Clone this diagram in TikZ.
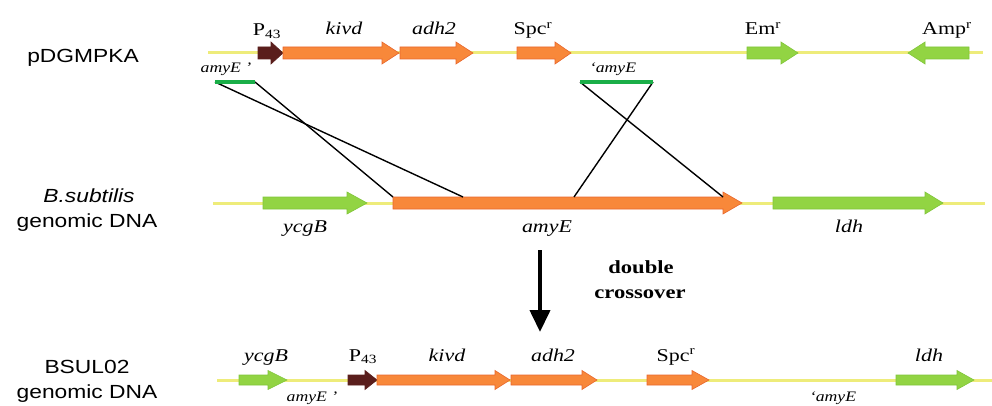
\documentclass[tikz,border=0pt]{standalone}
\usepackage{fontspec}
\setmainfont{Liberation Serif}[FakeStretch=1.22]
\newfontfamily\arialfont{Liberation Sans}[FakeStretch=1.2]
\usetikzlibrary{arrows.meta}
\definecolor{orfill}{HTML}{F8883A}
\definecolor{ordraw}{HTML}{E8662C}
\definecolor{grfill}{HTML}{92D443}
\definecolor{grdraw}{HTML}{80C53A}
\definecolor{brfill}{HTML}{5A1E1C}
\definecolor{dnayel}{HTML}{EEEC7A}
\definecolor{hgreen}{HTML}{1AAE48}
% #1 x1, #2 x2 (tip), #3 y, #4 style, #5 head length (signed), #6 body half, #7 head half
\newcommand\genearrow[7]{%
  \draw[#4] ({#1},{#3-#6}) -- ({#2-(#5)},{#3-#6}) -- ({#2-(#5)},{#3-#7}) -- ({#2},{#3})
    -- ({#2-(#5)},{#3+#7}) -- ({#2-(#5)},{#3+#6}) -- ({#1},{#3+#6}) -- cycle;}
\begin{document}
\begin{tikzpicture}[x=1pt,y=-1pt,
  orgene/.style={fill=orfill,draw=ordraw,line width=0.6pt},
  grgene/.style={fill=grfill,draw=grdraw,line width=0.6pt},
  brgene/.style={fill=brfill,draw=brfill,line width=0.6pt},
  dna/.style={draw=dnayel,line width=3pt},
  homol/.style={draw=hgreen,line width=3.2pt},
  cross/.style={draw=black,line width=1.4pt},
  title/.style={anchor=base,font=\arialfont\fontsize{19}{22}\selectfont,inner sep=0pt},
  glab/.style={anchor=base,font=\fontsize{18}{21}\selectfont\itshape,inner sep=0pt},
  plab/.style={anchor=base,font=\fontsize{18}{21}\selectfont,inner sep=0pt},
  slab/.style={anchor=base,font=\fontsize{14.5}{17}\selectfont\itshape,inner sep=0pt},
  blab/.style={anchor=base,font=\fontsize{18.5}{21}\selectfont\bfseries,inner sep=0pt}]
\useasboundingbox (0,0) rectangle (992,406);

% titles
\node[title] (t1) at (83,63) {pDGMPKA};
\node[title] (t2) at (89,202) {\itshape B.subtilis};
\node[title] (t3) at (87,227) {genomic DNA};
\node[title] (t4) at (87,373) {BSUL02};
\node[title] (t5) at (87,398) {genomic DNA};

% DNA backbones
\draw[dna] (208,53) -- (983,53);
\draw[dna] (213,203) -- (985,203);
\draw[dna] (217,380) -- (992,380);

% top row genes
\genearrow{258}{283}{53}{brgene}{12}{6}{11}
\genearrow{283}{399}{53}{orgene}{17}{6}{11}
\genearrow{400}{473}{53}{orgene}{17}{6}{11}
\genearrow{517}{571}{53}{orgene}{16}{6}{11}
\genearrow{747}{798}{53}{grgene}{17}{6}{11}
\genearrow{969}{908}{53}{grgene}{-17}{6}{11}

% middle row genes
\genearrow{263}{367}{203}{grgene}{20}{6}{11}
\genearrow{393}{742}{203}{orgene}{19}{6}{11}
\genearrow{773}{943}{203}{grgene}{18}{6}{11}

% bottom row genes
\genearrow{239}{287}{380}{grgene}{19}{5}{9.5}
\genearrow{348}{377}{380}{brgene}{12}{5}{9.5}
\genearrow{377}{510}{380}{orgene}{15}{5}{9.5}
\genearrow{511}{597}{380}{orgene}{15}{5}{9.5}
\genearrow{647}{709}{380}{orgene}{17}{5}{9.5}
\genearrow{896}{974}{380}{grgene}{17}{5}{9.5}

% top labels
\node[plab] (p43a) at (267,36) {P\textsubscript{43}};
\node[glab] (kivda) at (344,35) {kivd};
\node[glab] (adha) at (434,35) {adh2};
\node[plab] (spca) at (533,35) {Spc\textsuperscript{r}};
\node[plab] (ema) at (763,35) {Em\textsuperscript{r}};
\node[plab] (ampa) at (947,35) {Amp\textsuperscript{r}};
\node[slab] (amyL) at (226,73) {amyE ’};
\node[slab] (amyR) at (613,73) {‘amyE};

% middle labels
\node[glab] (ycgbb) at (305,232) {ycgB};
\node[glab] (amyeb) at (547,232) {amyE};
\node[glab] (ldhb) at (849,232) {ldh};

% bottom labels
\node[glab] (ycgbc) at (266,361) {ycgB};
\node[plab] (p43c) at (363,361) {P\textsubscript{43}};
\node[glab] (kivdc) at (447,361) {kivd};
\node[glab] (adhc) at (553,361) {adh2};
\node[plab] (spcc) at (676,361) {Spc\textsuperscript{r}};
\node[glab] (ldhc) at (929,361) {ldh};
\node[slab] (amyLc) at (312,401.5) {amyE ’};
\node[slab] (amyRc) at (833,401.5) {‘amyE};

% homology segments and crossover lines
\coordinate (hL1) at (215,82);
\coordinate (hL2) at (255,82);
\coordinate (hR1) at (580,82);
\coordinate (hR2) at (653,82);
\coordinate (gL1) at (393,197);
\coordinate (gL2) at (463,197);
\coordinate (gR1) at (574,197);
\coordinate (gR2) at (723,197);
\draw[cross] (hL1) -- (gL2);
\draw[cross] (hL2) -- (gL1);
\draw[cross] (hR1) -- (gR2);
\draw[cross] (hR2) -- (gR1);
\draw[homol] (hL1) -- (hL2);
\draw[homol] (hR1) -- (hR2);

% process arrow
\coordinate (arTop) at (540,250);
\coordinate (arBot) at (540,332);
\draw[line width=4pt,-{Triangle[length=22pt,width=20pt]}] (arTop) -- (arBot);
\node[blab] (dbl) at (641,273) {double};
\node[blab] (xov) at (640,298) {crossover};
\end{tikzpicture}
\end{document}
